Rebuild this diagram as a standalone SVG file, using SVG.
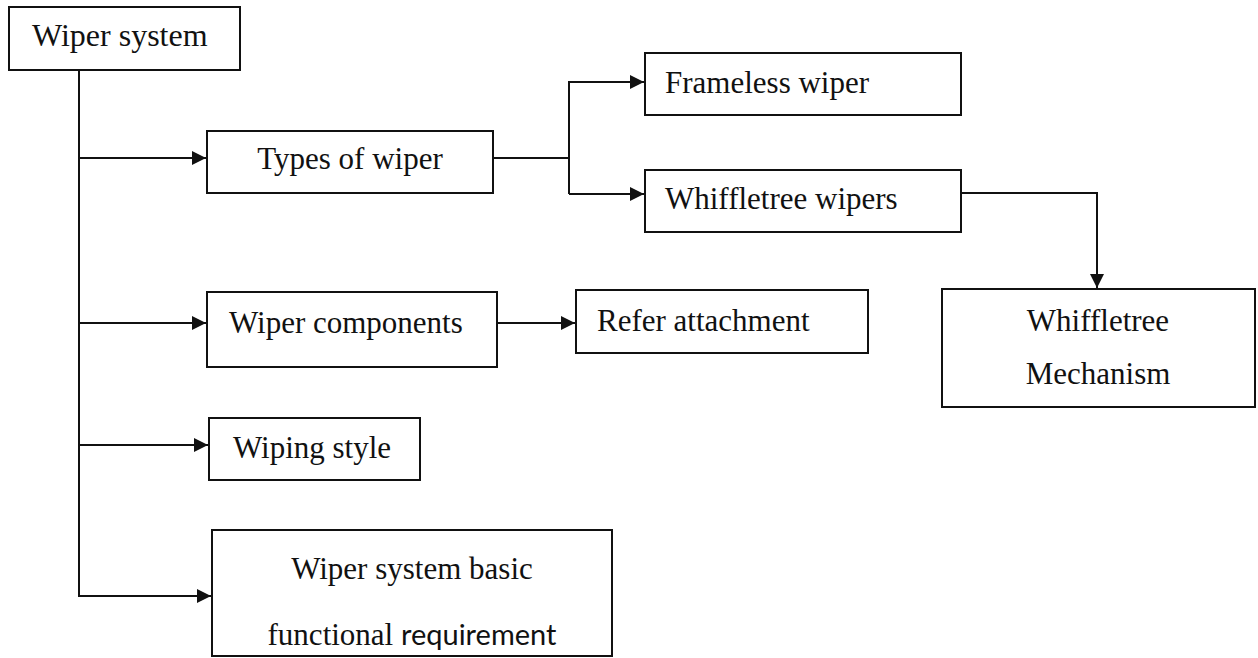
<svg xmlns="http://www.w3.org/2000/svg" width="1258" height="658" viewBox="0 0 1258 658">
  <style>
    .box { fill: #ffffff; stroke: #111111; stroke-width: 2; }
    .lbl { font-family: "Liberation Serif", "Times New Roman", serif; font-size: 31px; fill: #111111; }
    .mid { text-anchor: middle; }
    .sans { font-family: Lato, "Open Sans", "Liberation Sans", sans-serif; font-size: 29px; }
    .wire { fill: none; stroke: #111111; stroke-width: 2; }
  </style>
  <defs>
    <marker id="arrow" markerUnits="userSpaceOnUse" markerWidth="16" markerHeight="16" refX="14" refY="7" orient="auto" overflow="visible">
      <path d="M0,0 L14,7 L0,14 Z" fill="#111111"/>
    </marker>
  </defs>
  <rect width="1258" height="658" fill="#ffffff"/>

  <g id="connectors">
    <!-- main trunk from the root box -->
    <path class="wire" d="M79,70 V596 H211" marker-end="url(#arrow)"/>
    <path class="wire" d="M79,158 H206" marker-end="url(#arrow)"/>
    <path class="wire" d="M79,323 H206" marker-end="url(#arrow)"/>
    <path class="wire" d="M79,445 H208" marker-end="url(#arrow)"/>
    <!-- types of wiper fork -->
    <path class="wire" d="M493,158 H569"/>
    <path class="wire" d="M569,194 V82 H644" marker-end="url(#arrow)"/>
    <path class="wire" d="M569,194 H644" marker-end="url(#arrow)"/>
    <!-- whiffletree wipers to mechanism -->
    <path class="wire" d="M961,193 H1097 V288" marker-end="url(#arrow)"/>
    <!-- components to attachment -->
    <path class="wire" d="M497,323 H575" marker-end="url(#arrow)"/>
  </g>

  <g id="wiper-system">
    <rect class="box" x="9" y="7" width="231" height="63"/>
    <text class="lbl" x="32" y="46" style="font-size:32px">Wiper system</text>
  </g>

  <g id="types-of-wiper">
    <rect class="box" x="207" y="131" width="286" height="62"/>
    <text class="lbl mid" x="350" y="169">Types of wiper</text>
  </g>

  <g id="frameless-wiper">
    <rect class="box" x="645" y="53" width="316" height="62"/>
    <text class="lbl" x="665" y="93">Frameless wiper</text>
  </g>

  <g id="whiffletree-wipers">
    <rect class="box" x="645" y="170" width="316" height="62"/>
    <text class="lbl" x="665" y="209">Whiffletree wipers</text>
  </g>

  <g id="whiffletree-mechanism">
    <rect class="box" x="942" y="289" width="313" height="118"/>
    <text class="lbl mid" x="1098" y="331">Whiffletree</text>
    <text class="lbl mid" x="1098" y="384">Mechanism</text>
  </g>

  <g id="wiper-components">
    <rect class="box" x="207" y="292" width="290" height="75"/>
    <text class="lbl" x="229" y="333">Wiper components</text>
  </g>

  <g id="refer-attachment">
    <rect class="box" x="576" y="290" width="292" height="63"/>
    <text class="lbl" x="597" y="331">Refer attachment</text>
  </g>

  <g id="wiping-style">
    <rect class="box" x="209" y="418" width="211" height="62"/>
    <text class="lbl" x="233" y="458">Wiping style</text>
  </g>

  <g id="basic-requirement">
    <rect class="box" x="212" y="530" width="400" height="126"/>
    <text class="lbl mid" x="412" y="579">Wiper system basic</text>
    <text class="lbl mid" x="412" y="645">functional <tspan class="sans">requirement</tspan></text>
  </g>
</svg>
